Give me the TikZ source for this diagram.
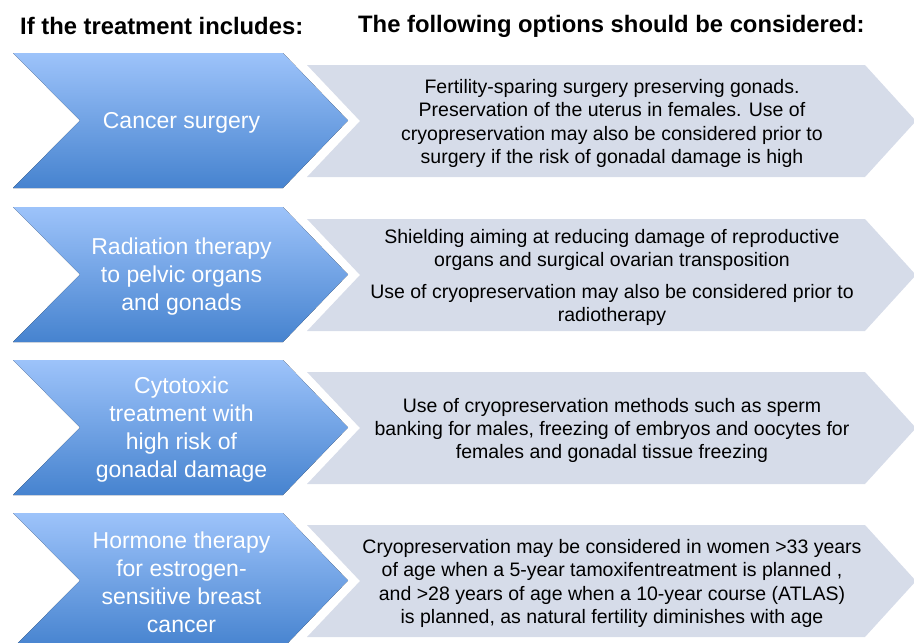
\documentclass[tikz,border=0pt]{standalone}
\usepackage{fontspec}
\setmainfont{Liberation Sans}
\usepackage{tikz}
\usetikzlibrary{positioning}
\tikzstyle{flowChart} = [x = 1pt, y = -1pt]
\definecolor{chevronTop}{RGB}{157,195,250}
\definecolor{chevronBottom}{RGB}{70,131,207}
\definecolor{optionGray}{RGB}{214,220,233}
\tikzstyle{chevronStyle} = [top color=chevronTop, bottom color=chevronBottom, draw=none]
\tikzstyle{optionStyle} = [fill=optionGray, draw=none]
\tikzstyle{chevronText} = [text=white, align=center, font=\fontsize{23}{28}\selectfont, inner sep=0pt]
\tikzstyle{optionText} = [text=black, align=center, font=\fontsize{19.5}{23.3}\selectfont, inner sep=0pt]
\tikzstyle{headerText} = [anchor=west, font=\fontsize{23.8}{28}\selectfont\bfseries, inner sep=0pt]
\newcommand{\chevronHalf}{67.5}
\newcommand{\treatmentChevron}[3]{\fill [chevronStyle] (13, #1) -- (283, #1) -- (348, #1 + \chevronHalf) -- (283, #1 + 135) -- (13, #1 + 135) -- (80, #1 + \chevronHalf) -- cycle;
  \node [chevronText] (#2) at (181.5, #1 + 69.5) {#3};}
\newcommand{\optionArrow}[3]{\fill [optionStyle] (307, #1 + 12) -- (865, #1 + 12) -- (916, #1 + 68) -- (865, #1 + 124) -- (307, #1 + 124) -- (360, #1 + 68) -- cycle;
  \node [optionText] (#2) at (612, #1 + 70.5) {#3};}

\begin{document}
\begin{tikzpicture}[flowChart]
  \useasboundingbox (0, 0) rectangle (914, 643);
  \node [headerText] (treatmentHeader) at (20, 26) {If the treatment includes:};
  \node [headerText] (optionsHeader) at (358, 26) {The following options should be considered:};

  \treatmentChevron{53}{surgery}{Cancer surgery}
  \optionArrow{53}{surgeryOption}{Fertility-sparing surgery preserving gonads.\\ Preservation of the uterus in females. Use of\\ cryopreservation may also be considered prior to\\ surgery if the risk of gonadal damage is high}

  \treatmentChevron{207}{radiation}{Radiation therapy\\ to pelvic organs\\ and gonads}
  \optionArrow{207}{radiationOption}{Shielding aiming at reducing damage of reproductive\\ organs and surgical ovarian transposition\\[8pt] Use of cryopreservation may also be considered prior to\\ radiotherapy}

  \treatmentChevron{360}{cytotoxic}{Cytotoxic\\ treatment with\\ high risk of\\ gonadal damage}
  \optionArrow{360}{cytotoxicOption}{Use of cryopreservation methods such as sperm\\ banking for males, freezing of embryos and oocytes for\\ females and gonadal tissue freezing}

  \treatmentChevron{513}{hormone}{Hormone therapy\\ for estrogen-\\ sensitive breast\\ cancer}
  \optionArrow{513}{hormoneOption}{Cryopreservation may be considered in women >33 years\\ of age when a 5-year tamoxifentreatment is planned ,\\ and >28 years of age when a 10-year course (ATLAS)\\ is planned, as natural fertility diminishes with age}
\end{tikzpicture}
\end{document}
